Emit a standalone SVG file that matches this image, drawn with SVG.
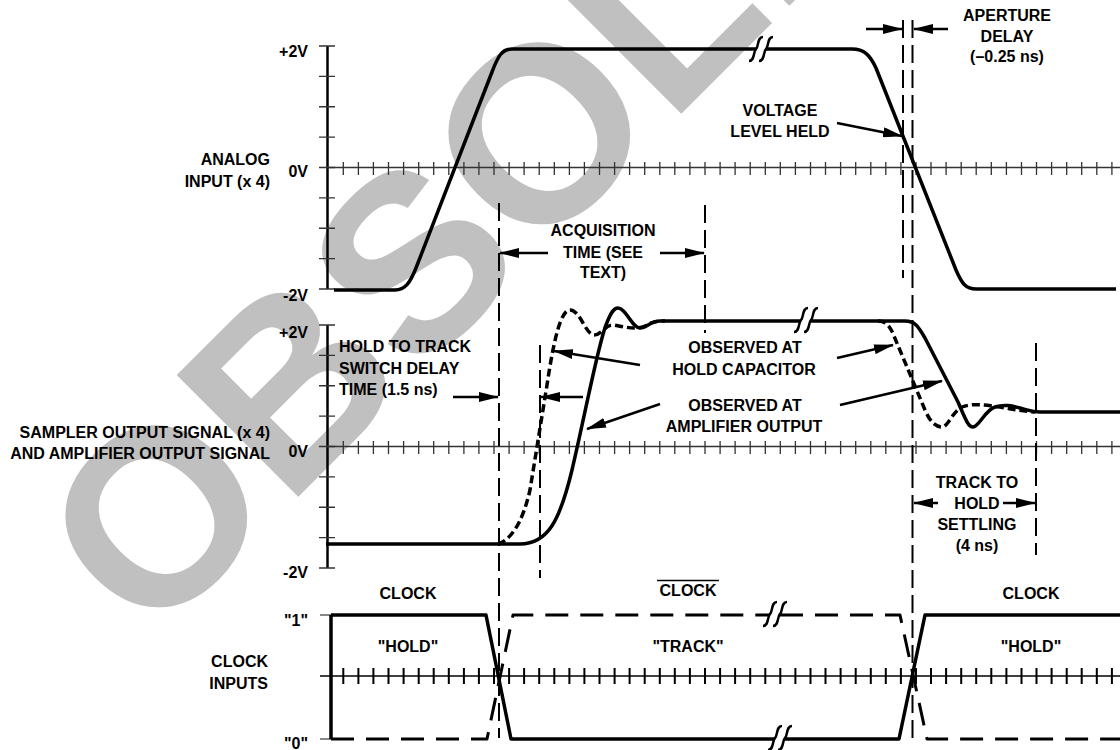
<svg xmlns="http://www.w3.org/2000/svg" xmlns:xlink="http://www.w3.org/1999/xlink" width="1120" height="750" viewBox="0 0 1120 750">
<style>
.t{font-family:"Liberation Sans",Arial,Helvetica,sans-serif;font-weight:bold;font-size:16px;fill:#000}
.e{text-anchor:end}.m{text-anchor:middle}
.wave{fill:none;stroke:#000;stroke-width:3.5;stroke-linejoin:round}
.dot{stroke-dasharray:8 4}
.dclk{stroke-width:3;stroke-dasharray:23 12}
.mk{fill:none;stroke:#000;stroke-width:2;stroke-dasharray:18 7}
.arr{fill:none;stroke:#000;stroke-width:2.5;marker-end:url(#ah)}
.ax{stroke:#000;stroke-width:2.5;fill:none}
.tk{stroke:#333;stroke-width:1.3;fill:none}
.tk2{stroke:#000;stroke-width:2;fill:none}
.gt{stroke:#888;stroke-width:2;fill:none}
.brk{fill:none;stroke:#000;stroke-width:2.5}
</style>
<defs>
<marker id="ah" markerUnits="userSpaceOnUse" markerWidth="20" markerHeight="10" refX="19" refY="5" orient="auto"><path d="M0,0 L20,5 L0,10 z" fill="#000"/></marker>
<path id="tickrow" d="M343.3 0v13M358.4 0v13M373.4 0v13M388.5 0v13M403.6 0v13M418.7 0v13M433.7 0v13M448.8 0v13M463.9 0v13M478.9 0v13M494 0v13M509.1 0v13M524.1 0v13M539.2 0v13M554.3 0v13M569.4 0v13M584.4 0v13M599.5 0v13M614.6 0v13M629.6 0v13M644.7 0v13M659.8 0v13M674.8 0v13M689.9 0v13M705 0v13M720.1 0v13M735.1 0v13M750.2 0v13M765.3 0v13M780.3 0v13M795.4 0v13M810.5 0v13M825.5 0v13M840.6 0v13M855.7 0v13M870.8 0v13M885.8 0v13M900.9 0v13M916 0v13M931 0v13M946.1 0v13M961.2 0v13M976.2 0v13M991.3 0v13M1006.4 0v13M1021.5 0v13M1036.5 0v13M1051.6 0v13M1066.7 0v13M1081.7 0v13M1096.8 0v13M1111.9 0v13"/>
<path id="vticks" d="M319 0h16M319 30.4h16M319 60.75h16M319 91.1h16M319 121.5h16M319 151.9h16M319 182.25h16M319 212.6h16M319 243h16"/>
<path id="brkS" d="M-12,12 C-6,12 -8,3 -5,0 C-2,-3 -4,-12 2,-12 M-2,12 C4,12 2,3 5,0 C8,-3 6,-12 12,-12"/>
</defs>

<g id="watermark">
<text x="149" y="646" transform="rotate(-45 149 646)" font-family="Liberation Sans, Arial, sans-serif" font-weight="bold" font-size="250" fill="#c0c0c0">OBSOLETE</text>
</g>

<g id="analog-input">
<line class="ax" x1="327.5" y1="46" x2="327.5" y2="289"/>
<use xlink:href="#vticks" href="#vticks" class="tk" transform="translate(0,46)"/>
<line class="tk" x1="327" y1="167.5" x2="1120" y2="167.5" style="stroke-width:1.5"/>
<use xlink:href="#tickrow" href="#tickrow" class="tk" transform="translate(0,162)"/>
<text class="t e" x="308" y="57">+2V</text>
<text class="t e" x="308" y="177">0V</text>
<text class="t e" x="308" y="301">-2V</text>
<text class="t e" x="270" y="165">ANALOG</text>
<text class="t e" x="270" y="187">INPUT (x 4)</text>
<path class="wave" d="M334,290 L395,290 C405,290 410,283 416,268 L492,72 C498,56 502,49 512,49 L756,49 M766,49 L852,49 C864,49 870,55 876,68 L956,270 C962,284 966,289 976,289 L1116,289"/>
<use xlink:href="#brkS" href="#brkS" class="brk" transform="translate(761,49)"/>
</g>

<g id="sampler-output">
<line class="ax" x1="327.5" y1="325" x2="327.5" y2="568"/>
<use xlink:href="#vticks" href="#vticks" class="tk" transform="translate(0,325)"/>
<line class="tk" x1="327" y1="446.5" x2="1120" y2="446.5" style="stroke-width:1.5"/>
<use xlink:href="#tickrow" href="#tickrow" class="tk" transform="translate(0,441)"/>
<text class="t e" x="308" y="338">+2V</text>
<text class="t e" x="308" y="457">0V</text>
<text class="t e" x="308" y="578">-2V</text>
<text class="t e" x="270" y="438">SAMPLER OUTPUT SIGNAL (x 4)</text>
<text class="t e" x="270" y="459">AND AMPLIFIER OUTPUT SIGNAL</text>
<path class="wave" d="M326,544 L520,544 C548,544 560,520 572,470 C585,415 598,345 606,325 C611,312 614,308 618,308 C626,308 632,328 640,328 C647,328 650,321 660,321 L801,321 M811,321 L905,321 C915,321 918,326 925,338 L958,402 C965,418 968,427 973,427 C979,427 985,410 995,407 C1005,404 1012,406 1020,408 C1028,410 1032,412 1040,412 L1120,412"/>
<path class="wave dot" d="M498,544 C510,540 522,525 530,490 L547,385 C553,345 560,310 570,310 C580,310 586,335 594,335 C602,335 605,324 614,325 C625,327 635,330 645,326 C652,322 656,321 665,321"/>
<path class="wave dot" d="M878,321 C886,321 890,326 894,336 L925,410 C930,422 936,427 942,427 C948,427 952,412 962,407 C972,403 985,405 1000,407 C1012,409 1020,411 1035,412"/>
<use xlink:href="#brkS" href="#brkS" class="brk" transform="translate(806,320)"/>
</g>

<g id="clock-inputs">
<line class="gt" x1="320" y1="615" x2="331" y2="615"/>
<line class="gt" x1="320" y1="739" x2="331" y2="739"/>
<line class="tk" x1="320" y1="676" x2="1120" y2="676" style="stroke-width:1.6;stroke:#000"/>
<use xlink:href="#tickrow" href="#tickrow" class="tk2" transform="translate(0,668) scale(1,1.23)"/>
<text class="t e" x="308" y="626">"1"</text>
<text class="t e" x="308" y="749">"0"</text>
<text class="t e" x="268" y="667">CLOCK</text>
<text class="t e" x="268" y="689">INPUTS</text>
<text class="t m" x="408" y="599">CLOCK</text>
<text class="t m" x="688" y="596">CLOCK</text>
<line x1="657" y1="580.5" x2="719" y2="580.5" stroke="#000" stroke-width="1.5"/>
<text class="t m" x="1031" y="599">CLOCK</text>
<text class="t m" x="408" y="652">"HOLD"</text>
<text class="t m" x="688" y="652">"TRACK"</text>
<text class="t m" x="1031" y="652">"HOLD"</text>
<path class="wave" d="M331,615 L331,739"/>
<path class="wave" d="M331,615 L486,615 L511,739 L775,739 M785,739 L899,739 L925,615 L1120,615"/>
<path class="wave dclk" d="M331,739 L487,739 L513,615 L770,615 M780,615 L900,615 L927,739 L1120,739"/>
<use xlink:href="#brkS" href="#brkS" class="brk" transform="translate(775,614)"/>
<use xlink:href="#brkS" href="#brkS" class="brk" transform="translate(780,738)"/>
</g>

<g id="connectors">
<line class="mk" x1="499" y1="203" x2="499" y2="738"/>
<line class="mk" x1="705" y1="205" x2="705" y2="333"/>
<line class="mk" x1="540" y1="345" x2="540" y2="578"/>
<line class="mk" x1="903" y1="20" x2="903" y2="278"/>
<line class="mk" x1="912.5" y1="20" x2="912.5" y2="738"/>
<line class="mk" x1="1036" y1="343" x2="1036" y2="555"/>
<line class="arr" x1="866" y1="29" x2="902" y2="29"/>
<line class="arr" x1="948" y1="29" x2="914" y2="29"/>
<line class="arr" x1="837" y1="123" x2="902" y2="136"/>
<line class="arr" x1="548" y1="253" x2="500" y2="253"/>
<line class="arr" x1="660" y1="253" x2="704" y2="253"/>
<line class="arr" x1="453" y1="397" x2="498" y2="397"/>
<line class="arr" x1="583" y1="397" x2="541" y2="397"/>
<line class="arr" x1="640" y1="365" x2="554" y2="351"/>
<line class="arr" x1="837" y1="358" x2="893" y2="345"/>
<line class="arr" x1="660" y1="404" x2="587" y2="429"/>
<line class="arr" x1="840" y1="405" x2="942" y2="381"/>
<line class="arr" x1="938" y1="503" x2="914" y2="503"/>
<line class="arr" x1="1003" y1="503" x2="1035" y2="503"/>
</g>

<g id="annotations">
<text class="t m" x="1007" y="21">APERTURE</text>
<text class="t m" x="1007" y="42">DELAY</text>
<text class="t m" x="1007" y="62">(–0.25 ns)</text>
<text class="t m" x="780" y="116">VOLTAGE</text>
<text class="t m" x="780" y="137">LEVEL HELD</text>
<text class="t m" x="603" y="236">ACQUISITION</text>
<text class="t m" x="603" y="258">TIME (SEE</text>
<text class="t m" x="603" y="278">TEXT)</text>
<text class="t" x="339" y="352">HOLD TO TRACK</text>
<text class="t" x="339" y="374">SWITCH DELAY</text>
<text class="t" x="339" y="395">TIME (1.5 ns)</text>
<text class="t m" x="745" y="353">OBSERVED AT</text>
<text class="t m" x="744" y="375">HOLD CAPACITOR</text>
<text class="t m" x="745" y="411">OBSERVED AT</text>
<text class="t m" x="744" y="432">AMPLIFIER OUTPUT</text>
<text class="t m" x="977" y="488">TRACK TO</text>
<text class="t m" x="977" y="509">HOLD</text>
<text class="t m" x="977" y="530">SETTLING</text>
<text class="t m" x="977" y="551">(4 ns)</text>
</g>
</svg>
